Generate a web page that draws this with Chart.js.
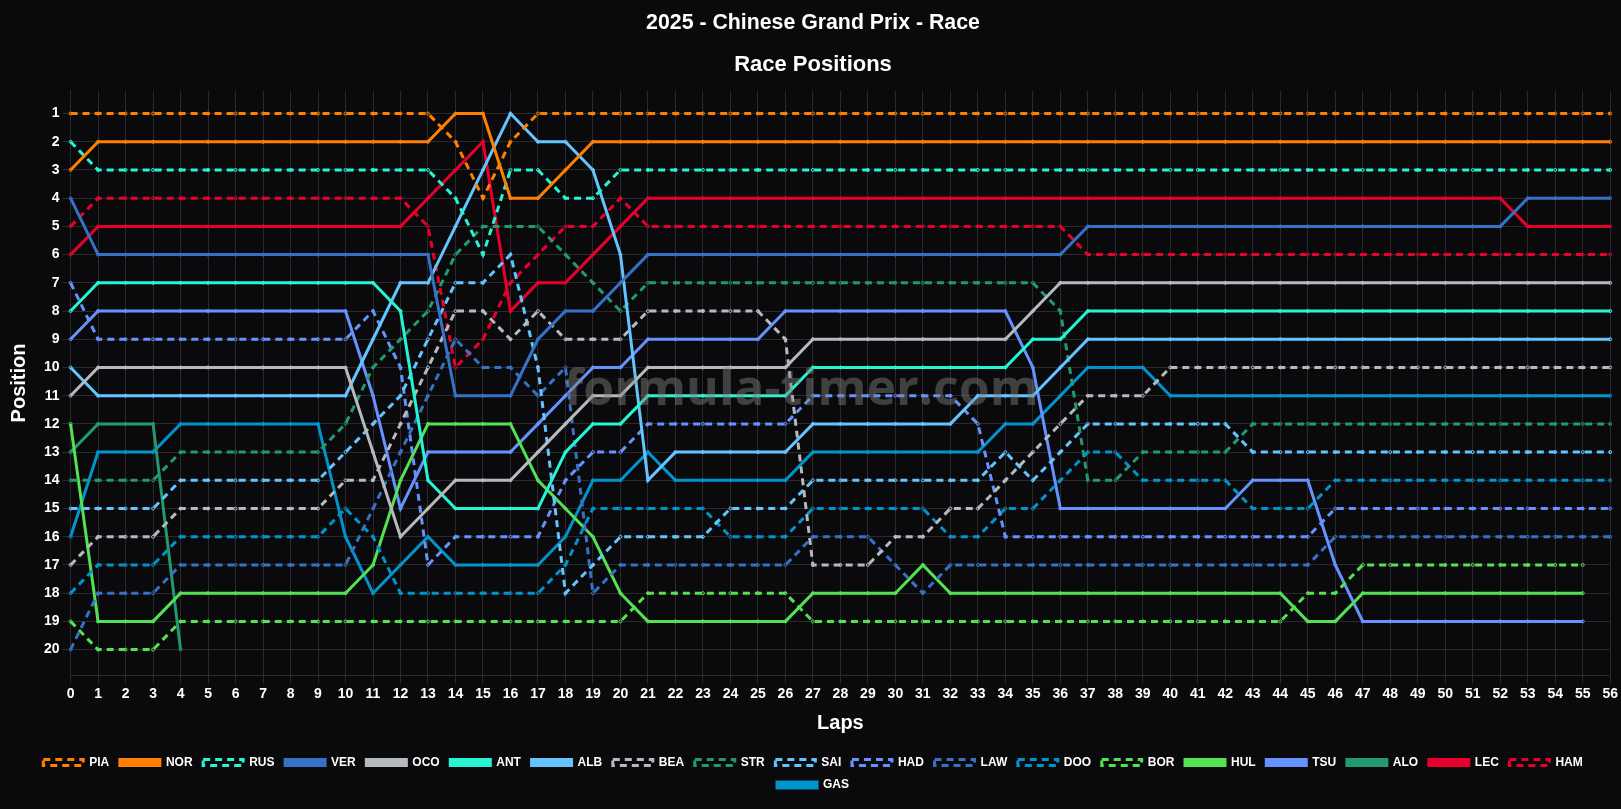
<!DOCTYPE html>
<html>
<head>
<meta charset="utf-8">
<title>2025 - Chinese Grand Prix - Race</title>
<script src="https://cdn.jsdelivr.net/npm/chart.js@4.4.1/dist/chart.umd.min.js"></script>
<style>
  html, body { margin: 0; padding: 0; background: #0a0a0c; overflow: hidden; }
  #wrap { width: 1621px; height: 809px; position: relative; }
</style>
</head>
<body>
<div id="wrap"><canvas id="chart"></canvas></div>
<script>
const laps = [
  0, 1, 2, 3, 4, 5, 6, 7, 8, 9, 10, 11, 12, 13, 14, 15, 16, 17, 18, 19,
  20, 21, 22, 23, 24, 25, 26, 27, 28, 29, 30, 31, 32, 33, 34, 35, 36, 37, 38, 39,
  40, 41, 42, 43, 44, 45, 46, 47, 48, 49, 50, 51, 52, 53, 54, 55, 56
];
const positionTicks = [1, 2, 3, 4, 5, 6, 7, 8, 9, 10, 11, 12, 13, 14, 15, 16, 17, 18, 19, 20];

// race positions per lap (lap 0 = grid)
const PIA = [1,1,1,1,1,1,1,1,1,1, 1,1,1,1,2,4,2,1,1,1, 1,1,1,1,1,1,1,1,1,1, 1,1,1,1,1,1,1,1,1,1, 1,1,1,1,1,1,1,1,1,1, 1,1,1,1,1,1,1];
const NOR = [3,2,2,2,2,2,2,2,2,2, 2,2,2,2,1,1,4,4,3,2, 2,2,2,2,2,2,2,2,2,2, 2,2,2,2,2,2,2,2,2,2, 2,2,2,2,2,2,2,2,2,2, 2,2,2,2,2,2,2];
const RUS = [2,3,3,3,3,3,3,3,3,3, 3,3,3,3,4,6,3,3,4,4, 3,3,3,3,3,3,3,3,3,3, 3,3,3,3,3,3,3,3,3,3, 3,3,3,3,3,3,3,3,3,3, 3,3,3,3,3,3,3];
const VER = [4,6,6,6,6,6,6,6,6,6, 6,6,6,6,11,11,11,9,8,8, 7,6,6,6,6,6,6,6,6,6, 6,6,6,6,6,6,6,5,5,5, 5,5,5,5,5,5,5,5,5,5, 5,5,5,4,4,4,4];
const OCO = [11,10,10,10,10,10,10,10,10,10, 10,13,16,15,14,14,14,13,12,11, 11,10,10,10,10,10,10,9,9,9, 9,9,9,9,9,8,7,7,7,7, 7,7,7,7,7,7,7,7,7,7, 7,7,7,7,7,7,7];
const ANT = [8,7,7,7,7,7,7,7,7,7, 7,7,8,14,15,15,15,15,13,12, 12,11,11,11,11,11,11,10,10,10, 10,10,10,10,10,9,9,8,8,8, 8,8,8,8,8,8,8,8,8,8, 8,8,8,8,8,8,8];
const ALB = [10,11,11,11,11,11,11,11,11,11, 11,9,7,7,5,3,1,2,2,3, 6,14,13,13,13,13,13,12,12,12, 12,12,12,11,11,11,10,9,9,9, 9,9,9,9,9,9,9,9,9,9, 9,9,9,9,9,9,9];
const BEA = [17,16,16,16,15,15,15,15,15,15, 14,14,12,10,8,8,9,8,9,9, 9,8,8,8,8,8,9,17,17,17, 16,16,15,15,14,13,12,11,11,11, 10,10,10,10,10,10,10,10,10,10, 10,10,10,10,10,10,10];
const STR = [14,14,14,14,13,13,13,13,13,13, 12,10,9,8,6,5,5,5,6,7, 8,7,7,7,7,7,7,7,7,7, 7,7,7,7,7,7,8,14,14,13, 13,13,13,12,12,12,12,12,12,12, 12,12,12,12,12,12,12];
const SAI = [15,15,15,15,14,14,14,14,14,14, 13,12,11,9,7,7,6,10,18,17, 16,16,16,16,15,15,15,14,14,14, 14,14,14,14,13,14,13,12,12,12, 12,12,12,13,13,13,13,13,13,13, 13,13,13,13,13,13,13];
const HAD = [7,9,9,9,9,9,9,9,9,9, 9,8,10,17,16,16,16,16,14,13, 13,12,12,12,12,12,12,11,11,11, 11,11,11,12,16,16,16,16,16,16, 16,16,16,16,16,16,15,15,15,15, 15,15,15,15,15,15,15];
const LAW = [20,18,18,18,17,17,17,17,17,17, 17,15,13,11,9,10,10,11,10,18, 17,17,17,17,17,17,17,16,16,16, 17,18,17,17,17,17,17,17,17,17, 17,17,17,17,17,17,16,16,16,16, 16,16,16,16,16,16,16];
const DOO = [18,17,17,17,16,16,16,16,16,16, 15,16,18,18,18,18,18,18,17,15, 15,15,15,15,16,16,16,15,15,15, 15,15,16,16,15,15,14,13,13,14, 14,14,14,15,15,15,14,14,14,14, 14,14,14,14,14,14,14];
const BOR = [19,20,20,20,19,19,19,19,19,19, 19,19,19,19,19,19,19,19,19,19, 19,18,18,18,18,18,18,19,19,19, 19,19,19,19,19,19,19,19,19,19, 19,19,19,19,19,18,18,17,17,17, 17,17,17,17,17,17,null];
const HUL = [12,19,19,19,18,18,18,18,18,18, 18,17,14,12,12,12,12,14,15,16, 18,19,19,19,19,19,19,18,18,18, 18,17,18,18,18,18,18,18,18,18, 18,18,18,18,18,19,19,18,18,18, 18,18,18,18,18,18,null];
const TSU = [9,8,8,8,8,8,8,8,8,8, 8,11,15,13,13,13,13,12,11,10, 10,9,9,9,9,9,8,8,8,8, 8,8,8,8,8,10,15,15,15,15, 15,15,15,14,14,14,17,19,19,19, 19,19,19,19,19,19,null];
const ALO = [13,12,12,12,20];
const LEC = [6,5,5,5,5,5,5,5,5,5, 5,5,5,4,3,2,8,7,7,6, 5,4,4,4,4,4,4,4,4,4, 4,4,4,4,4,4,4,4,4,4, 4,4,4,4,4,4,4,4,4,4, 4,4,4,5,5,5,5];
const HAM = [5,4,4,4,4,4,4,4,4,4, 4,4,4,5,10,9,7,6,5,5, 4,5,5,5,5,5,5,5,5,5, 5,5,5,5,5,5,5,6,6,6, 6,6,6,6,6,6,6,6,6,6, 6,6,6,6,6,6,6];
const GAS = [16,13,13,13,12,12,12,12,12,12, 16,18,17,16,17,17,17,17,16,14, 14,13,14,14,14,14,14,13,13,13, 13,13,13,13,12,12,11,10,10,10, 11,11,11,11,11,11,11,11,11,11, 11,11,11,11,11,11,11];

// legend order, colour and line style of each driver
const drivers = [
  { code: "PIA", data: PIA, color: "#FF8000", dashed: true },
  { code: "NOR", data: NOR, color: "#FF8000", dashed: false },
  { code: "RUS", data: RUS, color: "#27F4D2", dashed: true },
  { code: "VER", data: VER, color: "#3671C6", dashed: false },
  { code: "OCO", data: OCO, color: "#B6BABD", dashed: false },
  { code: "ANT", data: ANT, color: "#27F4D2", dashed: false },
  { code: "ALB", data: ALB, color: "#64C4FF", dashed: false },
  { code: "BEA", data: BEA, color: "#B6BABD", dashed: true },
  { code: "STR", data: STR, color: "#229971", dashed: true },
  { code: "SAI", data: SAI, color: "#64C4FF", dashed: true },
  { code: "HAD", data: HAD, color: "#6692FF", dashed: true },
  { code: "LAW", data: LAW, color: "#3671C6", dashed: true },
  { code: "DOO", data: DOO, color: "#0093CC", dashed: true },
  { code: "BOR", data: BOR, color: "#52E252", dashed: true },
  { code: "HUL", data: HUL, color: "#52E252", dashed: false },
  { code: "TSU", data: TSU, color: "#6692FF", dashed: false },
  { code: "ALO", data: ALO, color: "#229971", dashed: false },
  { code: "LEC", data: LEC, color: "#E8002D", dashed: false },
  { code: "HAM", data: HAM, color: "#E8002D", dashed: true },
  { code: "GAS", data: GAS, color: "#0093CC", dashed: false }
];

const gridColor = "#2a2a2d";
Chart.defaults.font.family = "'Liberation Sans', Arial, sans-serif";
Chart.defaults.color = "#ffffff";

/* faint site watermark across the middle of the plot */
const watermark = {
  id: "watermark",
  afterDatasetsDraw(chart) {
    const { ctx, chartArea } = chart;
    ctx.save();
    ctx.font = "bold 50px 'Open Sans', sans-serif";
    ctx.fillStyle = "rgba(130, 130, 130, 0.45)";
    ctx.textAlign = "center";
    ctx.textBaseline = "middle";
    ctx.fillText("formula-timer.com", (chartArea.left + chartArea.right) / 2 - 39, (chartArea.top + chartArea.bottom) / 2 + 8);
    ctx.restore();
  }
};

const ctx = document.getElementById("chart").getContext("2d");
const chart = new Chart(ctx, {
  type: "line",
  data: {
    labels: laps.map(String),
    datasets: drivers.map(d => ({
      label: d.code,
      data: d.data,
      borderColor: d.color,
      backgroundColor: d.dashed ? "transparent" : d.color,
      borderWidth: 3,
      borderDash: d.dashed ? [7, 5] : [],
      pointRadius: 1.5,
      pointBorderWidth: 1,
      pointBorderColor: d.color,
      pointBackgroundColor: "transparent",
      tension: 0,
      fill: false
    }))
  },
  options: {
    responsive: true,
    maintainAspectRatio: false,
    animation: false,
    layout: { padding: { left: 7, right: 2, bottom: 8 } },
    plugins: {
      title: {
        display: true,
        text: "2025 - Chinese Grand Prix - Race",
        color: "#fff",
        font: { size: 21.3, weight: "bold" },
        padding: { top: 10, bottom: 10 }
      },
      subtitle: {
        display: true,
        text: "Race Positions",
        color: "#fff",
        font: { size: 22, weight: "bold" },
        padding: { top: 6, bottom: 13 }
      },
      legend: {
        position: "bottom",
        labels: {
          color: "#fff",
          font: { size: 12, weight: "bold" },
          boxWidth: 40,
          boxHeight: 6,
          padding: 10.6
        }
      },
      tooltip: { enabled: false }
    },
    scales: {
      x: {
        grid: { color: gridColor },
        border: { color: gridColor },
        ticks: { color: "#fff", font: { size: 14, weight: "bold" }, autoSkip: false, maxRotation: 0 },
        title: { display: true, text: "Laps", color: "#fff", font: { size: 20, weight: "bold" }, padding: { top: 6, bottom: 10 } }
      },
      y: {
        type: "linear",
        reverse: true,
        min: 0.2,
        max: 20.9,
        afterBuildTicks: axis => { axis.ticks = positionTicks.map(v => ({ value: v })); },
        grid: { color: gridColor },
        border: { color: gridColor },
        ticks: { color: "#fff", font: { size: 14, weight: "bold" } },
        title: { display: true, text: "Position", color: "#fff", font: { size: 20, weight: "bold" }, padding: { top: 0, bottom: 10 } }
      }
    }
  },
  plugins: [watermark]
});
</script>
</body>
</html>
